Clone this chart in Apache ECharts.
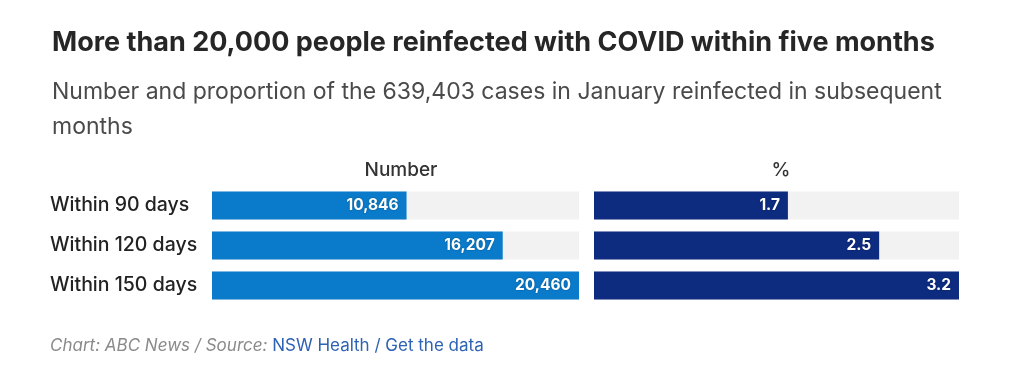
<!DOCTYPE html>
<html><head><meta charset="utf-8">
<script src="https://cdn.jsdelivr.net/npm/echarts@6/dist/echarts.min.js"></script>
<style>html,body{margin:0;padding:0;background:#fff}#c{width:1024px;height:368px}</style>
</head><body><div id="c"></div>
<script>
const categories = ['Within 90 days', 'Within 120 days', 'Within 150 days'];
const numberValues = [10846, 16207, 20460];
const percentValues = [1.7, 2.5, 3.2];
const numberLabels = ['10,846', '16,207', '20,460'];
const percentLabels = ['1.7', '2.5', '3.2'];

const FONT = 'Inter, "Noto Sans", sans-serif';
const chart = echarts.init(document.getElementById('c'), null, {renderer: 'canvas'});
const valueLabel = (labels) => ({
  show: true, position: 'insideRight', distance: 8,
  color: '#fff', fontFamily: FONT, fontWeight: 'bold', fontSize: 15.5,
  textShadowColor: 'rgba(0,0,0,0.35)', textShadowBlur: 2,
  formatter: p => labels[p.dataIndex]
});
chart.setOption({
  animation: false,
  title: [
    {text: 'More than 20,000 people reinfected with COVID within five months', left: 47, top: 24,
     textStyle: {fontFamily: FONT, fontWeight: 'bold', fontSize: 27, color: '#262626'}},
    {text: 'Number and proportion of the 639,403 cases in January reinfected in subsequent\nmonths', left: 47, top: 70,
     textStyle: {fontFamily: FONT, fontWeight: 'normal', fontSize: 23, color: '#4a4a4a', lineHeight: 35}},
    {text: 'Number', left: 396, textAlign: 'center', top: 156,
     textStyle: {fontFamily: FONT, fontWeight: 500, fontSize: 19, color: '#333'}},
    {text: '%', left: 776, textAlign: 'center', top: 156,
     textStyle: {fontFamily: FONT, fontWeight: 500, fontSize: 19, color: '#333'}},
    {text: '{g|Chart: ABC News / Source: }{b|NSW Health / Get the data}', left: 45, top: 332,
     textStyle: {fontWeight: 'normal', rich: {
       g: {fontFamily: FONT, fontStyle: 'italic', fontWeight: 'normal', fontSize: 17, color: '#8a8a8a'},
       b: {fontFamily: FONT, fontWeight: 'normal', fontSize: 17, color: '#2d62b5'}
     }}}
  ],
  grid: [
    {left: 212, width: 367, top: 185.5, height: 120},
    {left: 594, width: 365, top: 185.5, height: 120}
  ],
  xAxis: [
    {gridIndex: 0, type: 'value', min: 0, max: 20460, show: false},
    {gridIndex: 1, type: 'value', min: 0, max: 3.2, show: false}
  ],
  yAxis: [
    {gridIndex: 0, type: 'category', data: categories, inverse: true,
     axisLine: {show: false}, axisTick: {show: false},
     axisLabel: {margin: 162, align: 'left', fontFamily: FONT, fontWeight: 500, fontSize: 19.5, color: '#222'}},
    {gridIndex: 1, type: 'category', data: categories, inverse: true, show: false}
  ],
  series: [
    {type: 'bar', xAxisIndex: 0, yAxisIndex: 0, data: numberValues, barWidth: 28,
     itemStyle: {color: '#0a7bcb'}, showBackground: true, backgroundStyle: {color: '#f2f2f2'},
     label: valueLabel(numberLabels)},
    {type: 'bar', xAxisIndex: 1, yAxisIndex: 1, data: percentValues, barWidth: 28,
     itemStyle: {color: '#0d2c80'}, showBackground: true, backgroundStyle: {color: '#f2f2f2'},
     label: valueLabel(percentLabels)}
  ]
});
</script></body></html>
